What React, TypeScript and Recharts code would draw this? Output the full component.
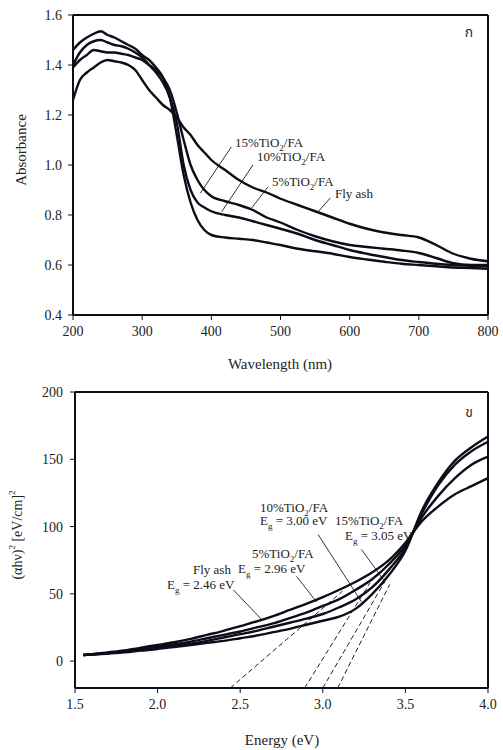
import React from 'react'
import { LineChart, Line, XAxis, YAxis, ReferenceLine } from 'recharts'

// --- top panel: absorbance spectra ---
const wavelength = [200, 210, 220, 230, 240, 250, 260, 270, 280, 290, 300, 310, 320, 330, 340, 350, 360, 370, 380, 390, 400, 420, 440, 460, 480, 500, 525, 550, 575, 600, 625, 650, 675, 700, 725, 750, 775, 800]
const absFlyAsh = [1.26, 1.34, 1.37, 1.39, 1.41, 1.42, 1.415, 1.41, 1.4, 1.38, 1.34, 1.3, 1.27, 1.24, 1.22, 1.19, 1.15, 1.12, 1.08, 1.05, 1.02, 0.98, 0.94, 0.91, 0.89, 0.865, 0.84, 0.815, 0.79, 0.765, 0.745, 0.73, 0.72, 0.71, 0.68, 0.645, 0.625, 0.615]
const abs5 = [1.39, 1.42, 1.44, 1.46, 1.455, 1.45, 1.45, 1.445, 1.44, 1.43, 1.42, 1.4, 1.38, 1.35, 1.3, 1.21, 1.1, 1.0, 0.94, 0.9, 0.875, 0.855, 0.84, 0.82, 0.79, 0.77, 0.74, 0.715, 0.695, 0.68, 0.672, 0.665, 0.658, 0.648, 0.628, 0.607, 0.6, 0.6]
const abs10 = [1.4, 1.45, 1.48, 1.495, 1.5, 1.49, 1.48, 1.475, 1.465, 1.45, 1.43, 1.4, 1.37, 1.33, 1.27, 1.17, 1.0, 0.9, 0.85, 0.83, 0.815, 0.8, 0.79, 0.775, 0.76, 0.745, 0.725, 0.7, 0.68, 0.66, 0.645, 0.632, 0.62, 0.612, 0.605, 0.6, 0.597, 0.595]
const abs15 = [1.46, 1.49, 1.51, 1.525, 1.535, 1.52, 1.51, 1.495, 1.48, 1.465, 1.44, 1.42, 1.39, 1.35, 1.27, 1.12, 0.96, 0.85, 0.78, 0.74, 0.72, 0.71, 0.705, 0.7, 0.69, 0.68, 0.665, 0.655, 0.645, 0.632, 0.622, 0.613, 0.605, 0.6, 0.595, 0.59, 0.588, 0.585]
const wlTicks = [200, 300, 400, 500, 600, 700, 800]
const absTicks = [0.4, 0.6, 0.8, 1.0, 1.2, 1.4, 1.6]
// leader lines from labels to curves: [label end, curve end]
const topLeaders = [
  [{ x: 429, y: 1.073 }, { x: 384, y: 0.887 }],
  [{ x: 460, y: 1.0 }, { x: 415, y: 0.813 }],
  [{ x: 482, y: 0.913 }, { x: 458, y: 0.827 }],
  [{ x: 572, y: 0.868 }, { x: 554, y: 0.812 }],
]

// --- bottom panel: Tauc plot ---
const energy = [1.55, 1.6, 1.7, 1.8, 1.9, 2.0, 2.1, 2.2, 2.3, 2.4, 2.5, 2.6, 2.7, 2.8, 2.9, 3.0, 3.1, 3.2, 3.3, 3.4, 3.5, 3.6, 3.7, 3.8, 3.9, 4.0]
const taucFlyAsh = [4.5, 5, 6.5, 8, 10, 12, 14, 16.5, 19.5, 22.5, 26, 29.5, 33.5, 38, 42.5, 47.5, 53, 59, 66, 75, 88, 104, 115, 124, 130, 136]
const tauc5 = [4.5, 5, 6, 7.5, 9, 11, 12.5, 14.5, 17, 19.5, 22, 25, 28, 32, 36, 41, 46, 53, 61, 72, 86, 107, 123, 136, 146, 152]
const tauc10 = [4.5, 5, 6, 7, 8.5, 10, 11.5, 13, 15, 17.5, 20, 22.5, 25.5, 28.5, 31.5, 35, 40, 46, 55, 68, 84, 110, 131, 146, 156, 163]
const tauc15 = [4.5, 4.8, 5.6, 6.5, 7.8, 9, 10.5, 12, 13.5, 15, 17, 19, 21.5, 24, 27, 30, 33, 39, 50, 64, 82, 112, 133, 149, 159, 167]
const eTicks = [1.5, 2.0, 2.5, 3.0, 3.5, 4.0]
const taucTicks = [0, 50, 100, 150, 200]
// dashed tangent extrapolations
const tangents = [
  [{ x: 2.44, y: -20 }, { x: 3.12, y: 52 }],
  [{ x: 2.89, y: -20 }, { x: 3.285, y: 58 }],
  [{ x: 3.0, y: -20 }, { x: 3.375, y: 59 }],
  [{ x: 3.09, y: -20 }, { x: 3.405, y: 57 }],
]
const bottomLeaders = [
  [{ x: 2.458, y: 53 }, { x: 2.629, y: 31 }],
  [{ x: 2.841, y: 63 }, { x: 2.962, y: 44 }],
  [{ x: 2.972, y: 94 }, { x: 3.234, y: 44 }],
  [{ x: 3.234, y: 83 }, { x: 3.375, y: 59 }],
]

const topData = wavelength.map((x, i) => ({ x, fly: absFlyAsh[i], t5: abs5[i], t10: abs10[i], t15: abs15[i] }))
const bottomData = energy.map((x, i) => ({ x, fly: taucFlyAsh[i], t5: tauc5[i], t10: tauc10[i], t15: tauc15[i] }))

const INK = '#0d0d1a'
const SERIF = '"Liberation Serif", "Times New Roman", serif'
const tick = { fontSize: 14, fill: '#222', fontFamily: SERIF }
const axisLine = { stroke: INK, strokeWidth: 2 }
const keys = ['fly', 't5', 't10', 't15']

function Chem({ x, y, pct }: { x: number; y: number; pct: string }) {
  return (
    <text x={x} y={y} fontSize={13} fontFamily={SERIF} fill="#222">
      {pct}%TiO<tspan dy={4} fontSize={9}>2</tspan><tspan dy={-4}>/FA</tspan>
    </text>
  )
}

function Eg({ x, y, v }: { x: number; y: number; v: string }) {
  return (
    <text x={x} y={y} fontSize={13} fontFamily={SERIF} fill="#222">
      E<tspan dy={4} fontSize={9}>g</tspan><tspan dy={-4}> = {v} eV</tspan>
    </text>
  )
}

export default function App() {
  return (
    <div style={{ position: 'absolute', left: 0, top: 0, width: 503, height: 750, background: '#fff' }}>
      <div style={{ position: 'absolute', left: 0, top: 0 }}>
        <LineChart width={503} height={375} data={topData} margin={{ top: 15, right: 15, left: 0, bottom: 0 }}>
          <XAxis type="number" dataKey="x" domain={[200, 800]} ticks={wlTicks} height={60}
            tick={tick} tickSize={5} tickMargin={6} axisLine={axisLine} tickLine={{ stroke: INK }} />
          <YAxis type="number" domain={[0.4, 1.6]} ticks={absTicks} width={73}
            tickFormatter={(v: number) => v.toFixed(1)}
            tick={tick} tickSize={5} tickMargin={6} axisLine={axisLine} tickLine={{ stroke: INK }} />
          <ReferenceLine y={1.6} stroke={INK} strokeWidth={2} />
          <ReferenceLine x={800} stroke={INK} strokeWidth={2} />
          {topLeaders.map((seg, i) => (
            <ReferenceLine key={'tl' + i} segment={seg} stroke="#333" strokeWidth={1} />
          ))}
          {keys.map((k) => (
            <Line key={k} dataKey={k} type="monotone" stroke={INK} strokeWidth={2.4} dot={false} isAnimationActive={false} />
          ))}
        </LineChart>
      </div>

      <div style={{ position: 'absolute', left: 0, top: 375 }}>
        <LineChart width={503} height={375} data={bottomData} margin={{ top: 17, right: 15, left: 0, bottom: 0 }}>
          <XAxis type="number" dataKey="x" domain={[1.5, 4.0]} ticks={eTicks} height={62}
            tickFormatter={(v: number) => v.toFixed(1)}
            tick={tick} tickSize={5} tickMargin={6} axisLine={axisLine} tickLine={{ stroke: INK }} />
          <YAxis type="number" domain={[-20, 200]} ticks={taucTicks} width={75}
            tick={tick} tickSize={5} tickMargin={7} axisLine={axisLine} tickLine={{ stroke: INK }} />
          <ReferenceLine y={200} stroke={INK} strokeWidth={2} />
          <ReferenceLine x={4.0} stroke={INK} strokeWidth={2} />
          {tangents.map((seg, i) => (
            <ReferenceLine key={'tg' + i} segment={seg} stroke="#222" strokeWidth={1} strokeDasharray="5 3" />
          ))}
          {bottomLeaders.map((seg, i) => (
            <ReferenceLine key={'bl' + i} segment={seg} stroke="#333" strokeWidth={1} />
          ))}
          {keys.map((k) => (
            <Line key={k} dataKey={k} type="monotone" stroke={INK} strokeWidth={2.4} dot={false} isAnimationActive={false} />
          ))}
        </LineChart>
      </div>

      <svg width={503} height={750} style={{ position: 'absolute', left: 0, top: 0, pointerEvents: 'none' }}>
        {/* top panel text */}
        <text x={21} y={150} transform="rotate(-90 21 150)" textAnchor="middle" dominantBaseline="central"
          fontSize={15} fontFamily={SERIF} fill="#222">Absorbance</text>
        <text x={280} y={369} textAnchor="middle" fontSize={15} fontFamily={SERIF} fill="#222">Wavelength (nm)</text>
        <text x={469} y={37} textAnchor="middle" fontSize={14} fontFamily='"Noto Sans Thai", "DejaVu Sans", sans-serif' fill="#333">ก</text>
        <Chem x={235} y={147} pct="15" />
        <Chem x={257} y={161} pct="10" />
        <Chem x={272} y={186} pct="5" />
        <text x={335} y={198} fontSize={13} fontFamily={SERIF} fill="#222">Fly ash</text>

        {/* bottom panel text */}
        <text x={17} y={535} transform="rotate(-90 17 535)" textAnchor="middle" dominantBaseline="central"
          fontSize={14} fontFamily={SERIF} fill="#222">
          (αhν)<tspan baselineShift="super" fontSize={9}>2</tspan> [eV/cm]<tspan baselineShift="super" fontSize={9}>2</tspan>
        </text>
        <text x={282} y={745} textAnchor="middle" fontSize={15} fontFamily={SERIF} fill="#222">Energy (eV)</text>
        <text x={469} y={417} textAnchor="middle" fontSize={14} fontFamily='"Noto Sans Thai", "DejaVu Sans", sans-serif' fill="#333">ข</text>
        <Chem x={260} y={512} pct="10" />
        <Eg x={260} y={525} v="3.00" />
        <Chem x={335} y={525} pct="15" />
        <Eg x={345} y={540} v="3.05" />
        <Chem x={252} y={558} pct="5" />
        <Eg x={238} y={573} v="2.96" />
        <text x={193} y={574} fontSize={13} fontFamily={SERIF} fill="#222">Fly ash</text>
        <Eg x={167} y={589} v="2.46" />
      </svg>
    </div>
  )
}
